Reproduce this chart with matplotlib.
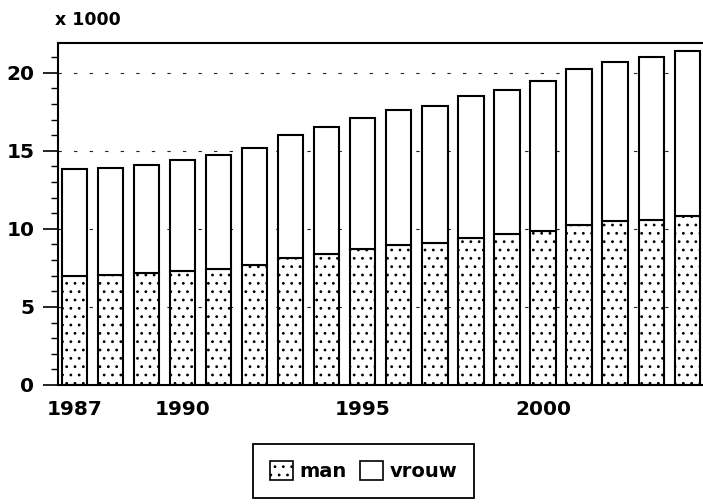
import matplotlib
matplotlib.use("Agg")
import matplotlib.pyplot as plt
from matplotlib.patches import Patch
from matplotlib.ticker import MultipleLocator

years = list(range(1987, 2005))
man = [6.99, 7.03, 7.16, 7.33, 7.46, 7.67, 8.12, 8.40, 8.72, 8.97, 9.08, 9.40,
       9.66, 9.85, 10.26, 10.47, 10.58, 10.83]
totaal = [13.83, 13.89, 14.08, 14.40, 14.76, 15.19, 15.98, 16.54, 17.09, 17.58,
          17.88, 18.48, 18.91, 19.44, 20.24, 20.68, 21.03, 21.39]
vrouw = [t - m for t, m in zip(totaal, man)]
xtick_labels = [1987, 1990, 1995, 2000]
ytick_values = [0, 5, 10, 15, 20]
series_labels = ["man", "vrouw"]
unit_label = "x 1000"

plt.rcParams['font.family'] = ['DejaVu Sans']
plt.rcParams['font.weight'] = 'bold'
plt.rcParams['hatch.linewidth'] = 0.8

W, H = 703, 504
fig = plt.figure(figsize=(W / 100, H / 100), dpi=100)
ax = fig.add_axes([58 / W, 1 - 385 / H, (W - 58) / W, (385 - 43) / H])

for y in ytick_values[1:]:
    ax.axhline(y, color="#222222", lw=0.8, dashes=(3, 11), zorder=0)

ax.bar(years, man, width=0.7, facecolor="white", edgecolor="black",
       linewidth=1.5, hatch="..", zorder=2)
ax.bar(years, vrouw, bottom=man, width=0.7, facecolor="white",
       edgecolor="black", linewidth=1.5, zorder=2)

ax.set_xlim(1986.54, 2004.44)
ax.set_ylim(0, 21.9)
ax.set_xticks(xtick_labels)
ax.set_xticklabels([str(v) for v in xtick_labels])
ax.set_yticks(ytick_values)
ax.yaxis.set_minor_locator(MultipleLocator(1))

ax.tick_params(axis="x", length=0, pad=11, labelsize=14.5)
ax.tick_params(axis="y", which="major", length=11, width=1.2, pad=6,
               labelsize=14.5, direction="out")
ax.tick_params(axis="y", which="minor", length=5, width=1.0, direction="out")

for s in ["left", "bottom", "top"]:
    ax.spines[s].set_linewidth(1.5)
ax.spines["right"].set_visible(False)

fig.text(55 / W, 1 - 11 / H, unit_label, ha="left", va="top",
         fontsize=12.5, fontweight="bold")

handles = [Patch(facecolor="white", edgecolor="black", hatch="..", linewidth=1.2),
           Patch(facecolor="white", edgecolor="black", linewidth=1.2)]
leg = fig.legend(handles, series_labels, loc="upper left",
                 bbox_to_anchor=(253 / W, 1 - 444 / H), ncol=2,
                 frameon=True, fancybox=False, edgecolor="black", framealpha=1,
                 fontsize=14, handlelength=1.2, handleheight=1.2,
                 handletextpad=0.35, columnspacing=0.65, borderpad=0.85,
                 borderaxespad=0)
leg.get_frame().set_linewidth(1.3)

fig.savefig("out.png", dpi=100)
